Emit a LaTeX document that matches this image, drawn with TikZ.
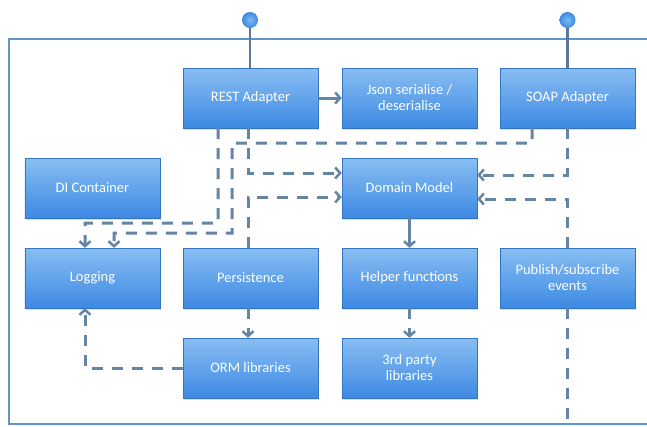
\documentclass[tikz,border=0pt]{standalone}
\usepackage{fontspec}
\setmainfont{Carlito}
\usetikzlibrary{arrows.meta,shadows}
\definecolor{boxtop}{HTML}{88BEF3}
\definecolor{boxbot}{HTML}{3D89E3}
\definecolor{lnc}{HTML}{6585A6}
\definecolor{framec}{HTML}{5E95CC}
\definecolor{pinin}{HTML}{7DBAF2}
\definecolor{pinout}{HTML}{3C8BE0}
\tikzset{
  blk/.style={rectangle, minimum width=135bp, minimum height=60bp, inner sep=0pt,
    top color=boxtop, bottom color=boxbot, draw=boxbot!85!black, line width=0.3bp,
    drop shadow={opacity=0.25, shadow xshift=1bp, shadow yshift=-1.5bp},
    text=white, font=\fontsize{14.5bp}{16bp}\selectfont, align=center},
  dline/.style={draw=lnc, line width=3bp, dash pattern=on 11bp off 9bp,
    -{Straight Barb[length=5bp,width=11bp,line width=2.5bp]}},
  dnoarrow/.style={draw=lnc, line width=3bp, dash pattern=on 11bp off 9bp},
  sline/.style={draw=lnc, line width=3bp,
    -{Straight Barb[length=5bp,width=11bp,line width=2.5bp]}},
  pinstem/.style={draw=lnc!90!black, line width=2.2bp},
  pin/.style={circle, minimum width=15bp, minimum height=16bp, inner sep=0pt,
    inner color=pinin, outer color=pinout, draw=none}
}
\begin{document}
\begin{tikzpicture}[x=1bp,y=-1bp]
\useasboundingbox (0,0) rectangle (647,426);
\fill[white] (0,0) rectangle (647,426);
% frame
\draw[framec, line width=2.5bp] (660,39) -- (9,39) -- (9,424) -- (660,424);
% boxes
\node[blk] (rest)   at (250.5,98)  {REST Adapter};
\node[blk] (json)   at (409.5,98)  {Json serialise /\\deserialise};
\node[blk] (soap)   at (567.5,98)  {SOAP Adapter};
\node[blk] (di)     at (92.5,188)  {DI Container};
\node[blk] (dm)     at (409.5,188) {Domain Model};
\node[blk] (log)    at (92.5,278)  {Logging};
\node[blk] (pers)   at (250.5,278) {Persistence};
\node[blk] (helper) at (409.5,278) {Helper functions};
\node[blk] (pubsub) at (567.5,278) {Publish/subscribe\\events};
\node[blk] (orm)    at (250.5,368) {ORM libraries};
\node[blk] (third)  at (409.5,368) {3rd party\\libraries};
% pins
\coordinate (p1) at (250,20);
\coordinate (p2) at (567.5,20);
\draw[pinstem] (p1) -- (rest.north -| p1);
\draw[pinstem] (p2) -- (soap.north -| p2);
\node[pin] (pin1) at (p1) {};
\node[pin] (pin2) at (p2) {};
% solid arrows
\draw[sline] (rest.east) -- (json.west);
\draw[sline] (dm.south) -- (helper.north);
% dashed connectors
\coordinate (a1) at (218,223);
\coordinate (a2) at (85,223);
\draw[dline] ([xshift=-32.5bp]rest.south) -- (a1) -- (a2) -- ([xshift=-7.5bp]log.north);
\coordinate (b1) at (532,143);
\coordinate (b2) at (232,143);
\coordinate (b3) at (232,233);
\coordinate (b4) at (114,233);
\draw[dline] ([xshift=-35.5bp]soap.south) -- (b1) -- (b2) -- (b3) -- (b4) -- ([xshift=21.5bp]log.north);
\draw[dline] ([xshift=-2.5bp]rest.south) |- ([yshift=15bp]dm.west);
\draw[dline] ([xshift=-2.5bp]pers.north) |- ([yshift=-9bp]dm.west);
\draw[dline] (soap.south) |- ([yshift=13bp]dm.east);
\draw[dline] (pubsub.north) |- ([yshift=-11bp]dm.east);
\coordinate (gend) at (567.5,430);
\draw[dnoarrow] (pubsub.south) -- (gend);
\draw[dline] (orm.west) -| ([xshift=-7.5bp]log.south);
\draw[dline] ([xshift=-2.5bp]pers.south) -- ([xshift=-2.5bp]orm.north);
\draw[dline] (helper.south) -- (third.north);
\end{tikzpicture}
\end{document}
